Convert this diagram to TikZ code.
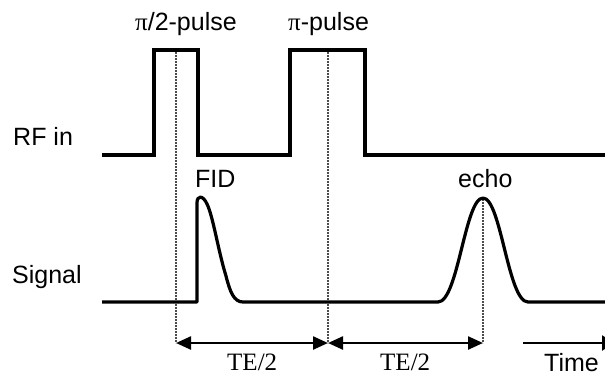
\documentclass[tikz,border=0pt]{standalone}
\usepackage{fontspec}
\setmainfont{Liberation Sans}
\newfontfamily\serifff{Liberation Serif}
\usetikzlibrary{arrows.meta}
\begin{document}
\begin{tikzpicture}[x=1pt,y=-1pt,
  wave/.style={line width=3.2pt,line join=miter,black},
  guide/.style={line width=2.2pt,gray!60!black,dash pattern=on 1.6pt off 1.4pt},
  span/.style={line width=2.4pt,{Triangle[length=15pt,width=13pt]}-{Triangle[length=15pt,width=13pt]}},
  tarrow/.style={line width=2.4pt,-{Triangle[length=12pt,width=15pt]}},
  lbl/.style={inner sep=0pt,anchor=base west,font=\fontsize{25}{30}\selectfont},
  slbl/.style={inner sep=0pt,anchor=base west,font=\fontsize{25}{30}\selectfont\serifff}]
\useasboundingbox[fill=white] (0,0) rectangle (605,376);
% coordinates
\coordinate (g1t) at (176,52);
\coordinate (g1b) at (176,343);
\coordinate (g2t) at (328,52);
\coordinate (g2b) at (328,343);
\coordinate (g3t) at (483,199);
\coordinate (g3b) at (483,343);
\coordinate (ts) at (523,343);
\coordinate (te) at (614,343);
% guides
\draw[guide] (g1t) -- (g1b);
\draw[guide] (g2t) -- (g2b);
\draw[guide] (g3t) -- (g3b);
% RF
\draw[wave] (102,155) -- (154,155) -- (154,50) -- (198,50) -- (198,155) -- (290,155) -- (290,50) -- (365,50) -- (365,155) -- (606,155);
% Signal
\draw[wave,line join=round] (102,302) -- (197,302) -- (197,203) .. controls (197,195) and (203,195) .. (207,204)
  .. controls (213,216) and (218,250) .. (226,276) .. controls (230,292) and (234,302) .. (243,302) -- (438,302)
  .. controls (458,302) and (465,198) .. (483,198) .. controls (501,198) and (508,302) .. (528,302) -- (606,302);
% arrows
\draw[span] (g1b) -- (g2b);
\draw[span] (g2b) -- (g3b);
\draw[tarrow] (ts) -- (te);
% labels
\node[lbl] (p1) at (135,30) {{\serifff π}/2-pulse};
\node[lbl] (p2) at (288,30) {{\serifff π}-pulse};
\node[lbl] (rf) at (13,145) {RF in};
\node[lbl] (sig) at (12,283) {Signal};
\node[lbl] (fid) at (195,187) {FID};
\node[lbl] (echo) at (458,187) {echo};
\node[slbl] (te1) at (227,370) {TE/2};
\node[slbl] (te2) at (380,370) {TE/2};
\node[lbl] (time) at (544,371) {Time};
\end{tikzpicture}
\end{document}
